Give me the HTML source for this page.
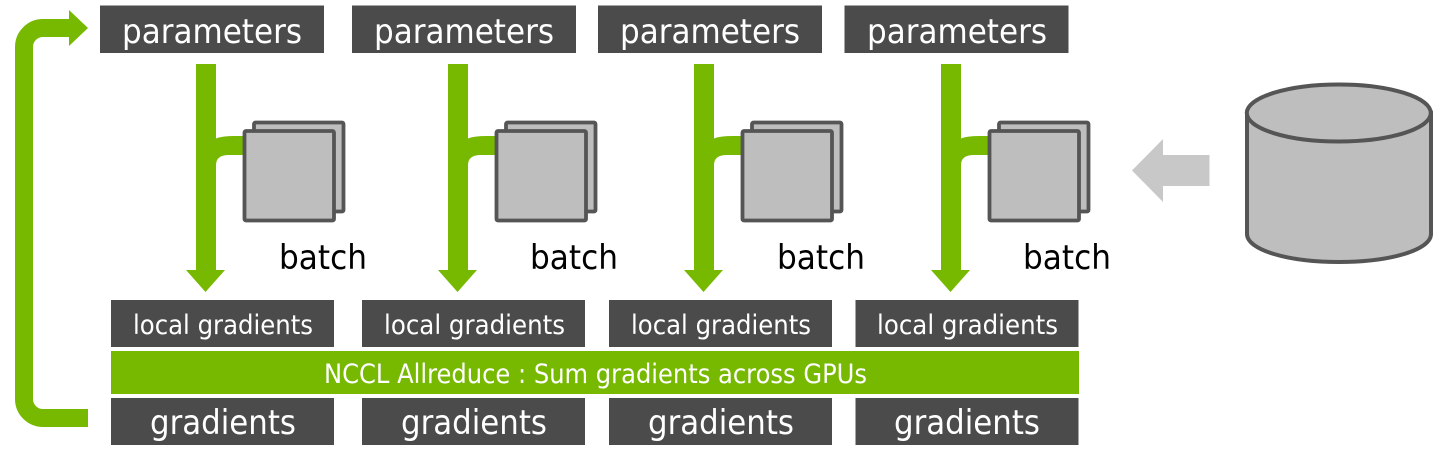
<!DOCTYPE html>
<html><head><meta charset="utf-8"><style>
html,body{margin:0;padding:0;background:#fff;width:1440px;height:452px;overflow:hidden}
svg{display:block}
text{font-family:"DejaVu Sans",sans-serif}
</style></head><body>
<svg width="1440" height="452" viewBox="0 0 1440 452" xmlns="http://www.w3.org/2000/svg">
<defs>
<g id="branch">
<rect x="196" y="64" width="20" height="206.500" fill="#76b900"/>
<polygon points="186,270 225,270 205.500,292" fill="#76b900"/>
<path d="M216 138.500Q222 136 235 136H246V155H229Q216 155 216 165Z" fill="#76b900"/>
<rect x="254" y="122.500" width="89.500" height="89" rx="1.500" fill="#bebebe" stroke="#555" stroke-width="3.800"/>
<rect x="244.500" y="131" width="89.500" height="89.500" rx="1.500" fill="#bebebe" stroke="#555" stroke-width="3.800"/>
</g>
</defs>
<path d="M88 418H43A19 19 0 0 1 24 399V47A19 19 0 0 1 43 28H70" fill="none" stroke="#76b900" stroke-width="18"/>
<polygon points="69,10 88,28 69,46" fill="#76b900"/>

<rect x="100" y="5.500" width="224" height="47.500" fill="#4b4b4b"/>
<rect x="352" y="5.500" width="224" height="47.500" fill="#4b4b4b"/>
<rect x="598" y="5.500" width="224" height="47.500" fill="#4b4b4b"/>
<rect x="844.500" y="5.500" width="224" height="47.500" fill="#4b4b4b"/>
<g fill="#fff" font-size="34">
<text x="122" y="43" textLength="180" lengthAdjust="spacingAndGlyphs">parameters</text>
<text x="374" y="43" textLength="180" lengthAdjust="spacingAndGlyphs">parameters</text>
<text x="620" y="43" textLength="180" lengthAdjust="spacingAndGlyphs">parameters</text>
<text x="867" y="43" textLength="180" lengthAdjust="spacingAndGlyphs">parameters</text>
</g>

<use href="#branch"/>
<use href="#branch" x="252"/>
<use href="#branch" x="498"/>
<use href="#branch" x="745"/>

<g fill="#000" font-size="34">
<text x="279" y="269" textLength="88" lengthAdjust="spacingAndGlyphs">batch</text>
<text x="530" y="269" textLength="88" lengthAdjust="spacingAndGlyphs">batch</text>
<text x="777" y="269" textLength="88" lengthAdjust="spacingAndGlyphs">batch</text>
<text x="1023" y="269" textLength="88" lengthAdjust="spacingAndGlyphs">batch</text>
</g>

<g fill="#4b4b4b">
<rect x="111" y="300" width="223" height="47"/>
<rect x="362" y="300" width="223" height="47"/>
<rect x="609" y="300" width="223" height="47"/>
<rect x="855.500" y="300" width="223" height="47"/>
<rect x="111" y="398" width="223" height="47"/>
<rect x="362" y="398" width="223" height="47"/>
<rect x="609" y="398" width="223" height="47"/>
<rect x="855.500" y="398" width="223" height="47"/>
</g>
<rect x="111" y="351" width="968" height="43" fill="#76b900"/>

<g fill="#fff" font-size="27">
<text x="133" y="334" textLength="180" lengthAdjust="spacingAndGlyphs">local gradients</text>
<text x="384" y="334" textLength="181" lengthAdjust="spacingAndGlyphs">local gradients</text>
<text x="631" y="334" textLength="180" lengthAdjust="spacingAndGlyphs">local gradients</text>
<text x="877" y="334" textLength="181" lengthAdjust="spacingAndGlyphs">local gradients</text>
<text x="324" y="383" textLength="543" lengthAdjust="spacingAndGlyphs">NCCL Allreduce : Sum gradients across GPUs</text>
</g>
<g fill="#fff" font-size="34">
<text x="150" y="434" textLength="146" lengthAdjust="spacingAndGlyphs">gradients</text>
<text x="401" y="434" textLength="146" lengthAdjust="spacingAndGlyphs">gradients</text>
<text x="648" y="434" textLength="146" lengthAdjust="spacingAndGlyphs">gradients</text>
<text x="894" y="434" textLength="146" lengthAdjust="spacingAndGlyphs">gradients</text>
</g>

<polygon points="1132,170.500 1163,139 1163,155 1209.500,155 1209.500,186 1163,186 1163,202" fill="#c8c8c8"/>

<path d="M1247 113V234C1247 250 1288 262 1339 262S1431 250 1431 234V113Z" fill="#bebebe" stroke="#555" stroke-width="4"/>
<ellipse cx="1338.800" cy="113" rx="92" ry="28.500" fill="#bebebe" stroke="#555" stroke-width="4"/>
</svg>
</body></html>
